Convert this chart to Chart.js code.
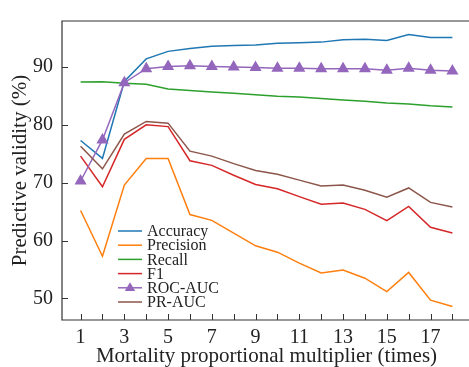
<!DOCTYPE html>
<html>
<head>
<meta charset="utf-8">
<script src="https://cdn.jsdelivr.net/npm/chart.js@4/dist/chart.umd.min.js"></script>
<style>
  html, body { margin: 0; padding: 0; background: #fff; overflow: hidden; }
  #wrap { width: 469px; height: 367px; overflow: hidden; }
  #myChart { display: block; }
</style>
</head>
<body>
<!-- the plot runs past the right edge of the reference, so the canvas is a bit wider and clipped -->
<div id="wrap"><canvas id="myChart" width="478" height="367"></canvas></div>
<script>
// data
const multipliers = [1, 2, 3, 4, 5, 6, 7, 8, 9, 10, 11, 12, 13, 14, 15, 16, 17, 18];
const accuracy  = [77.3, 74.2, 87.5, 91.4, 92.7, 93.2, 93.6, 93.7, 93.8, 94.1, 94.2, 94.3, 94.7, 94.8, 94.6, 95.6, 95.1, 95.1];
const precision = [65.2, 57.3, 69.6, 74.2, 74.2, 64.5, 63.5, 61.3, 59.1, 58.0, 56.1, 54.4, 54.9, 53.5, 51.2, 54.5, 49.7, 48.6];
const recall    = [87.4, 87.45, 87.2, 87.0, 86.2, 85.95, 85.7, 85.45, 85.2, 84.95, 84.8, 84.55, 84.3, 84.1, 83.8, 83.6, 83.3, 83.1];
const f1        = [74.6, 69.3, 77.5, 80.0, 79.7, 73.8, 73.0, 71.3, 69.7, 68.95, 67.6, 66.3, 66.5, 65.4, 63.45, 65.9, 62.3, 61.3];
const rocAuc    = [70.3, 77.4, 87.3, 89.7, 90.1, 90.2, 90.1, 90.0, 89.9, 89.8, 89.8, 89.7, 89.7, 89.7, 89.45, 89.8, 89.45, 89.3];
const prAuc     = [76.3, 72.4, 78.4, 80.6, 80.3, 75.45, 74.6, 73.3, 72.1, 71.45, 70.45, 69.45, 69.6, 68.7, 67.5, 69.1, 66.6, 65.8];

const seriesNames = ["Accuracy", "Precision", "Recall", "F1", "ROC-AUC", "PR-AUC"];
const seriesColors = ['#1f77b4', '#ff7f0e', '#2ca02c', '#d62728', '#9467bd', '#8c564b'];
const xTicks = multipliers;
const yTicks = [50, 60, 70, 80, 90];

const FONT = "'Liberation Serif', 'Times New Roman', serif";
const INK = '#222';

const makeSet = (i, values) => ({
  label: seriesNames[i],
  data: multipliers.map((m, k) => ({ x: m, y: values[k] })),
  borderColor: seriesColors[i],
  backgroundColor: seriesColors[i],
  borderWidth: 1.5,
  pointRadius: 0,
  tension: 0,
  order: 6 - i
});

const datasets = [accuracy, precision, recall, f1, rocAuc, prAuc].map((v, i) => makeSet(i, v));
datasets[4].pointStyle = 'triangle';
datasets[4].pointRadius = 5.5;

// frame + inward ticks
const framePlugin = {
  id: 'frame',
  afterDraw(chart) {
    const { ctx, chartArea: a, scales } = chart;
    ctx.save();
    ctx.strokeStyle = '#333';
    ctx.lineWidth = 1.2;
    ctx.beginPath();
    ctx.rect(a.left, a.top, a.right - a.left - 1, a.bottom - a.top);
    ctx.stroke();
    ctx.lineWidth = 1;
    ctx.beginPath();
    xTicks.forEach((v) => {
      const x = Math.round(scales.x.getPixelForValue(v)) + 0.5;
      ctx.moveTo(x, a.bottom);
      ctx.lineTo(x, a.bottom - 6);
    });
    yTicks.forEach((v) => {
      const y = Math.round(scales.y.getPixelForValue(v)) + 0.5;
      ctx.moveTo(a.left, y);
      ctx.lineTo(a.left + 6, y);
    });
    ctx.stroke();
    ctx.restore();
  }
};

// legend drawn inside the plot, like the reference
const legendPlugin = {
  id: 'innerLegend',
  afterDatasetsDraw(chart) {
    const { ctx } = chart;
    const x0 = 118, x1 = 142, tx = 147, y0 = 231, step = 14.2;
    ctx.save();
    ctx.font = '16px ' + FONT;
    ctx.textBaseline = 'middle';
    seriesNames.forEach((name, i) => {
      const y = y0 + i * step;
      ctx.strokeStyle = seriesColors[i];
      ctx.lineWidth = 1.5;
      ctx.beginPath();
      ctx.moveTo(x0, y);
      ctx.lineTo(x1, y);
      ctx.stroke();
      if (i === 4) {
        const r = 5.5, cx = (x0 + x1) / 2;
        ctx.fillStyle = seriesColors[i];
        ctx.beginPath();
        ctx.moveTo(cx, y - r);
        ctx.lineTo(cx + r * 0.95, y + r * 0.6);
        ctx.lineTo(cx - r * 0.95, y + r * 0.6);
        ctx.closePath();
        ctx.fill();
      }
      ctx.fillStyle = INK;
      ctx.fillText(name, tx, y + 1);
    });
    ctx.restore();
  }
};

const ctx = document.getElementById('myChart').getContext('2d');
const myChart = new Chart(ctx, {
  type: 'line',
  data: { datasets: datasets },
  plugins: [framePlugin, legendPlugin],
  options: {
    responsive: false,
    animation: false,
    events: [],
    layout: { padding: { top: 10, right: 0, left: 0, bottom: 0 } },
    plugins: { legend: { display: false }, tooltip: { enabled: false } },
    scales: {
      x: {
        type: 'linear',
        min: 0.15,
        max: 18.85,
        grid: { display: false, drawTicks: false },
        border: { display: false },
        afterBuildTicks: (scale) => { scale.ticks = xTicks.map((v) => ({ value: v })); },
        afterFit: (scale) => { scale.height = 47; scale.paddingLeft = 0; scale.paddingRight = 0; },
        ticks: {
          autoSkip: false,
          maxRotation: 0,
          padding: 6,
          color: INK,
          font: { family: FONT, size: 20 },
          callback: (v) => (v % 2 === 1 ? String(v) : '')
        },
        title: {
          display: true,
          text: 'Mortality proportional multiplier (times)',
          color: INK,
          font: { family: FONT, size: 21, lineHeight: 1 },
          padding: 0
        }
      },
      y: {
        min: 46.28,
        max: 97.95,
        grid: { display: false, drawTicks: false },
        border: { display: false },
        afterBuildTicks: (scale) => { scale.ticks = yTicks.map((v) => ({ value: v })); },
        afterFit: (scale) => { scale.width = 62; },
        ticks: {
          padding: 9,
          color: INK,
          font: { family: FONT, size: 20 }
        },
        title: {
          display: true,
          text: 'Predictive validity (%)',
          color: INK,
          font: { family: FONT, size: 21, lineHeight: 1 },
          padding: { top: 10, bottom: 0 }
        }
      }
    }
  }
});
</script>
</body>
</html>
